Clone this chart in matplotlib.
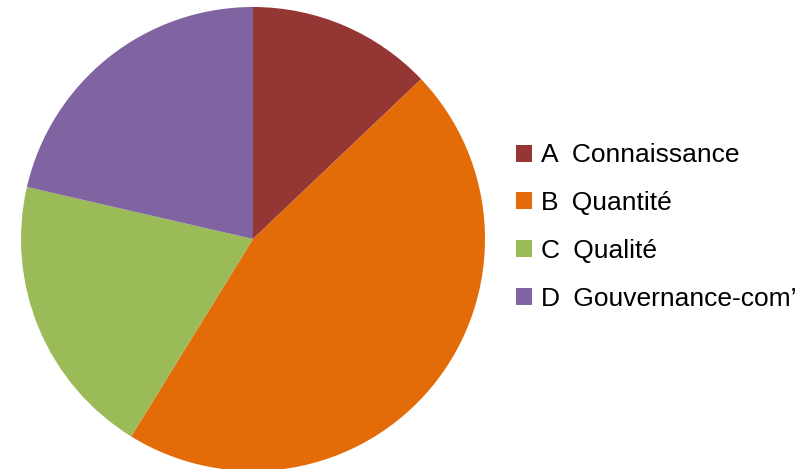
import matplotlib
matplotlib.use("Agg")
import matplotlib.pyplot as plt

letters = ["A", "B", "C", "D"]
names = ["Connaissance", "Quantité", "Qualité", "Gouvernance-com’"]
shares = [12.9, 45.9, 19.8, 21.4]
colors = ["#943634", "#E36C09", "#9BBB59", "#8064A2"]

fig = plt.figure(figsize=(8.1, 4.69), dpi=100)
ax = fig.add_axes([0, 0, 1, 1])

wedges, _ = ax.pie(shares, colors=colors, startangle=90, counterclock=False,
                   center=(253, 230), radius=232, frame=True)
ax.set_xlim(0, 810)
ax.set_ylim(0, 469)
ax.set_aspect("equal")
ax.axis("off")

# en space between the letter and the name, as in the original
labels = [f"{l}\u2002{n}" for l, n in zip(letters, names)]
ax.legend(wedges, labels, loc="center left", bbox_to_anchor=(516, 242),
          bbox_transform=ax.transData, frameon=False,
          prop={"family": "Liberation Sans", "size": 19},
          handlelength=0.61, handleheight=0.61, handletextpad=0.35,
          labelspacing=0.90, borderpad=0, borderaxespad=0)

fig.savefig("out.png", dpi=100)
